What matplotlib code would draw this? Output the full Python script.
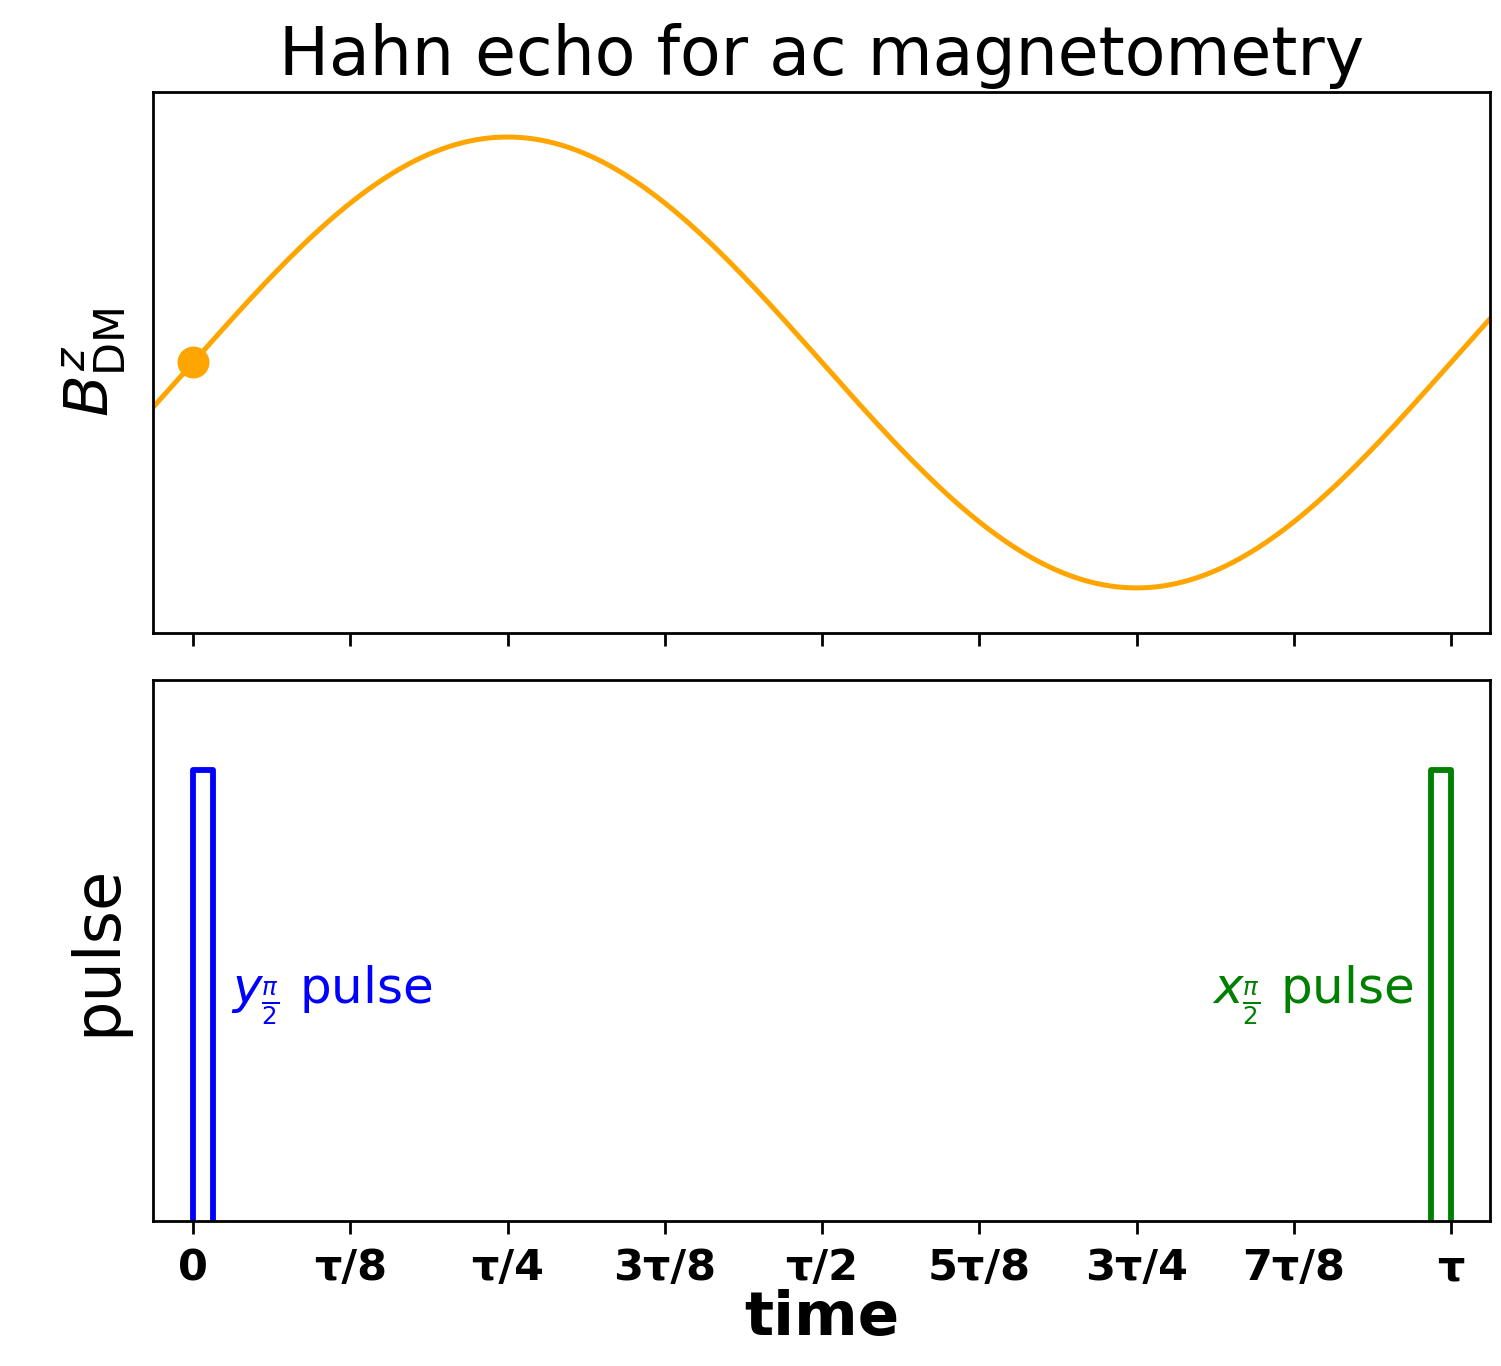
import numpy as np
import matplotlib
matplotlib.use("Agg")
import matplotlib.pyplot as plt

# ---- data (time in units of tau) ----
tick_positions = [0, 1/8, 2/8, 3/8, 4/8, 5/8, 6/8, 7/8, 1]
tick_labels = ["0", "τ/8", "τ/4", "3τ/8", "τ/2", "5τ/8", "3τ/4", "7τ/8", "τ"]
field_amplitude = 1.0
field_period = 1.0          # one full oscillation per tau
field_phase = 0.0
marker_time = [0.0]
pulse_starts = [0.0, 63/64]
pulse_width = 1/64
pulse_height = 1.0
pulse_colors = ["blue", "green"]
pulse_texts = [r"$y_{\frac{\pi}{2}}$ pulse", r"$x_{\frac{\pi}{2}}$ pulse"]
pulse_text_x = [0.03, 0.97]
pulse_text_y = [0.5, 0.5]
xlim = (-0.0318, 1.031)

t = np.linspace(xlim[0], xlim[1], 800)
B = field_amplitude * np.sin(2 * np.pi * t / field_period + field_phase)
Bm = field_amplitude * np.sin(2 * np.pi * np.array(marker_time) / field_period + field_phase)

fig = plt.figure(figsize=(15.01, 13.66), dpi=100)
ax1 = fig.add_axes([0.102, 0.5366, 0.8907, 0.3961])
ax2 = fig.add_axes([0.102, 0.1061, 0.8907, 0.3961], sharex=ax1)

ax1.plot(t, B, color="orange", lw=3.6)
ax1.plot(marker_time, Bm, "o", color="orange", ms=22)
ax1.set_ylim(-1.2, 1.2)
ax1.set_yticks([])
ax1.set_xlim(*xlim)
ax1.set_ylabel(r"$B^z_{\rm DM}$", fontsize=44, labelpad=18)
ax1.set_title("Hahn echo for ac magnetometry", fontsize=48, pad=12)
ax1.tick_params(axis="x", labelbottom=False, length=9, width=2)

for s, c, txt, tx, ty in zip(pulse_starts, pulse_colors, pulse_texts, pulse_text_x, pulse_text_y):
    xs = [s, s, s + pulse_width, s + pulse_width]
    ys = [0, pulse_height, pulse_height, 0]
    ax2.plot(xs, ys, color=c, lw=4.2)
    ax2.text(tx, ty, txt, color=c, fontsize=36, va="center",
             ha="left" if tx < 0.5 else "right")
ax2.set_ylim(0, 1.2)
ax2.set_yticks([])
ax2.set_xticks(tick_positions)
ax2.set_xticklabels(tick_labels, fontsize=31, fontweight="bold")
ax2.tick_params(axis="x", length=9, width=2, pad=10)
ax2.set_ylabel("pulse", fontsize=46, labelpad=18)
ax2.set_xlabel("time", fontsize=44, fontweight="bold", labelpad=0)

for ax in (ax1, ax2):
    for sp in ax.spines.values():
        sp.set_linewidth(2)

fig.savefig("out.png", dpi=100)
